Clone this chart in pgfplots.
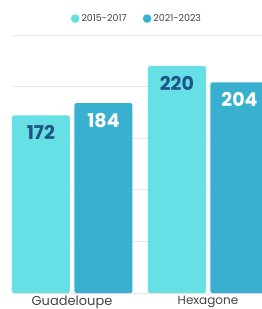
\documentclass[border=0pt]{standalone}
\usepackage{pgfplots}
\pgfplotsset{compat=1.18}
\usepackage{fontspec}
\setmainfont{Poppins}
\definecolor{barlight}{HTML}{66E0E5}
\definecolor{bardark}{HTML}{3AB0D0}
\definecolor{labnavy}{HTML}{1F5588}
\definecolor{gridgray}{HTML}{E8E8E8}
\definecolor{txtgray}{HTML}{444444}
\pgfplotsset{
  dotlegend/.style={legend image code/.code={\fill[##1] (0pt,0pt) circle (4.3pt);}}
}
\begin{document}
\begin{tikzpicture}
\begin{axis}[
  scale only axis,
  width=250pt, height=258pt,
  xmin=-0.441, xmax=1.397,
  ymin=0, ymax=250,
  ybar,
  ytick={0,50,...,250},
  yticklabels={},
  ymajorgrids,
  grid style={draw=gridgray, line width=0.8pt},
  axis line style={draw=none},
  xtick={0,1},
  xticklabels={{\fontsize{13}{14}\selectfont Guadeloupe},{\fontsize{12}{13}\selectfont Hexagone}},
  tick style={draw=none},
  major tick length=0pt,
  xticklabel style={inner sep=0pt, anchor=north, yshift=-3pt, text=txtgray},
  bar width=0.4265,
  nodes near coords,
  /pgf/number format/assume math mode=true,
  every node near coord/.append style={anchor=north, inner sep=0pt, yshift=-10pt, font=\fontsize{19}{19}\selectfont\bfseries},
  legend columns=2,
  legend style={draw=none, fill=none, at={(0.5,1)}, anchor=south, yshift=8pt,
    font=\fontsize{9.5}{10}\selectfont, text=txtgray,
    /tikz/every even column/.append style={column sep=14pt}},
  legend cell align=left,
]
\addplot[draw=none, fill=barlight, bar shift=-0.2286, rounded corners=2pt, dotlegend,
  every node near coord/.append style={text=labnavy}]
  coordinates {(0,172) (1,220)};
\addplot[draw=none, fill=bardark, bar shift=0.2316, rounded corners=2pt, dotlegend,
  every node near coord/.append style={text=white}]
  coordinates {(0,184) (1,204)};
\legend{2015-2017, 2021-2023}
\coordinate (sw) at (rel axis cs:0,0);
\coordinate (ne) at (rel axis cs:1,1);
\end{axis}
\pgfresetboundingbox
\path ([shift={(-12pt,-16pt)}]sw) rectangle ([shift={(0pt,35pt)}]ne);
\end{tikzpicture}
\end{document}
